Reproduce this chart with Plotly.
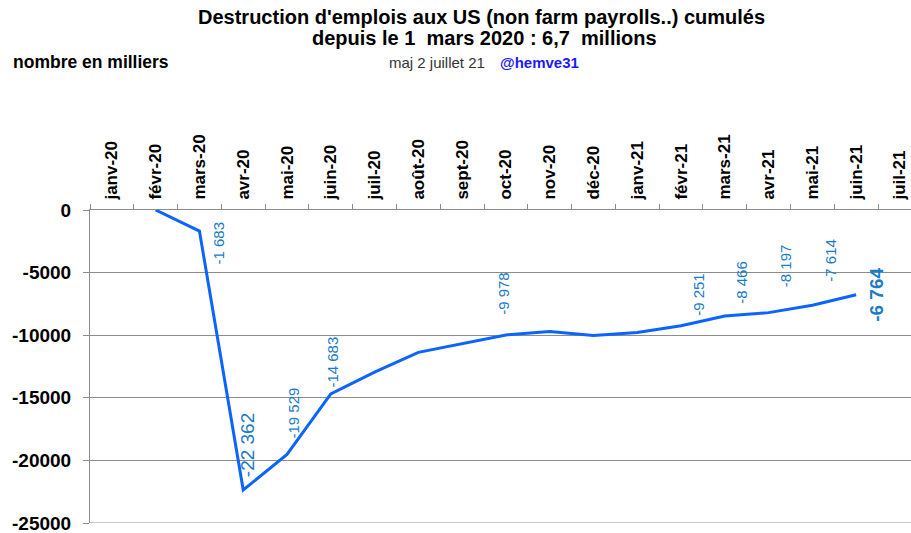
import plotly.graph_objects as go

# ---------------- data ----------------
months = ["janv-20", "févr-20", "mars-20", "avr-20", "mai-20", "juin-20", "juil-20",
          "août-20", "sept-20", "oct-20", "nov-20", "déc-20", "janv-21", "févr-21",
          "mars-21", "avr-21", "mai-21", "juin-21", "juil-21"]
cumul_jobs = [None, 0, -1683, -22362, -19529, -14683, -12957, -11374, -10658, -9978,
              -9714, -10020, -9787, -9251, -8466, -8197, -7614, -6764, None]
labelled_months = ["mars-20", "avr-20", "mai-20", "juin-20", "oct-20", "févr-21",
                   "mars-21", "avr-21", "mai-21", "juin-21"]
y_tick_vals = [0, -5000, -10000, -15000, -20000, -25000]
y_tick_text = ["0", "-5000", "-10000", "-15000", "-20000", "-25000"]

title_line1 = "Destruction d'emplois aux US (non farm payrolls..) cumulés"
title_line2 = "depuis le 1\u00a0\u00a0mars 2020 : 6,7\u00a0\u00a0millions"
unit_text = "nombre en milliers"
update_text = "maj 2 juillet 21"
handle_text = "@hemve31"

# ---------------- styles / layout ----------------
W, H = 911, 533
PLOT_L, PLOT_R, PLOT_T, PLOT_B = 90, 911, 210, 523   # plot area in pixels
L, T = PLOT_L, PLOT_T
R, B = W - PLOT_R, H - PLOT_B
PW, PH = PLOT_R - PLOT_L, PLOT_B - PLOT_T
CAT_W = 43.78  # px per month

FONT = "Liberation Sans, Arial, sans-serif"
LINE_COL = "#0a64ff"
LABEL_COL = "#1a7bc9"
GRID_COL = "#8c8c8c"

# label offsets (px, dx right, dy down), size, bold per labelled month
label_style = {
    "mars-20": (19, 12, 15, False),
    "avr-20": (5, -45, 19, False),
    "mai-20": (6, -41, 15, False),
    "juin-20": (2, -32, 15, False),
    "oct-20": (-2, -42, 15, False),
    "févr-21": (18, -31, 15, False),
    "mars-21": (17, -34, 15, False),
    "avr-21": (17, -47, 15, False),
    "mai-21": (18, -45, 15, False),
    "juin-21": (21, 0, 19, True),
}


def px_x(px):
    return (px - PLOT_L) / PW


def px_y(py):
    return (PLOT_B - py) / PH


def fmt(v):
    return f"{v:,}".replace(",", " ")


fig = go.Figure()
fig.add_trace(go.Scatter(
    x=months, y=cumul_jobs, mode="lines",
    line=dict(color=LINE_COL, width=3),
    connectgaps=False, hoverinfo="skip", showlegend=False,
))

annotations = []
for m in labelled_months:
    v = cumul_jobs[months.index(m)]
    dx, dy, size, bold = label_style[m]
    txt = fmt(v)
    if bold:
        txt = "<b>" + txt + "</b>"
    annotations.append(dict(
        x=m, y=v, xref="x", yref="y", text=txt, showarrow=False,
        textangle=-90, xanchor="center", yanchor="middle",
        xshift=dx, yshift=-dy,
        font=dict(family=FONT, size=size, color=LABEL_COL),
    ))

annotations += [
    dict(x=px_x(481), y=px_y(17), xref="paper", yref="paper", text="<b>" + title_line1 + "</b>",
         showarrow=False, xanchor="center", yanchor="middle",
         font=dict(family=FONT, size=20, color="#000000")),
    dict(x=px_x(484), y=px_y(38), xref="paper", yref="paper", text="<b>" + title_line2 + "</b>",
         showarrow=False, xanchor="center", yanchor="middle",
         font=dict(family=FONT, size=20, color="#000000")),
    dict(x=px_x(11), y=px_y(62), xref="paper", yref="paper", text="<b>" + unit_text + "</b>",
         showarrow=False, xanchor="left", yanchor="middle",
         font=dict(family=FONT, size=17.5, color="#000000")),
    dict(x=px_x(387), y=px_y(62), xref="paper", yref="paper", text=update_text,
         showarrow=False, xanchor="left", yanchor="middle",
         font=dict(family=FONT, size=15, color="#333333")),
    dict(x=px_x(498), y=px_y(62), xref="paper", yref="paper", text="<b>" + handle_text + "</b>",
         showarrow=False, xanchor="left", yanchor="middle",
         font=dict(family=FONT, size=15, color="#1a1aff")),
]

# bottom gridline (plotly omits the gridline at the range edge)
shapes = [dict(type="line", xref="paper", x0=0, x1=1, yref="y",
               y0=y_tick_vals[-1], y1=y_tick_vals[-1],
               line=dict(color=GRID_COL, width=1), layer="below")]

x_end = -0.5 + PW / CAT_W

fig.update_layout(
    width=W, height=H,
    margin=dict(l=L, r=R, t=T, b=B, pad=0, autoexpand=False),
    paper_bgcolor="white", plot_bgcolor="white",
    font=dict(family=FONT, color="#000000"),
    annotations=annotations,
    shapes=shapes,
    xaxis=dict(
        type="category", categoryorder="array", categoryarray=months,
        range=[-0.5, x_end], side="top",
        tickmode="array", tickvals=months, ticktext=months,
        tickson="boundaries", ticks="outside", ticklen=5, tickcolor=GRID_COL, tickwidth=1,
        tickangle=-90, tickfont=dict(family=FONT, size=17, color="#000000", weight="bold"),
        ticklabelstandoff=6, ticklabeloverflow="allow",
        showline=True, linecolor=GRID_COL, linewidth=1,
        showgrid=False, zeroline=False, fixedrange=True, automargin=False,
    ),
    yaxis=dict(
        range=[-25000, 0], tickmode="array", tickvals=y_tick_vals, ticktext=y_tick_text,
        ticks="outside", ticklen=6, tickcolor=GRID_COL, tickwidth=1,
        tickfont=dict(family=FONT, size=19, color="#000000", weight="bold"),
        ticklabelstandoff=8, ticklabeloverflow="allow",
        showline=True, linecolor=GRID_COL, linewidth=1,
        showgrid=True, gridcolor=GRID_COL, gridwidth=1,
        zeroline=False, fixedrange=True, automargin=False,
    ),
)

fig.write_html(
    "out.html",
    config={"displayModeBar": False, "staticPlot": True},
    post_script="document.body.style.margin='0px';document.body.style.overflow='hidden';",
)
